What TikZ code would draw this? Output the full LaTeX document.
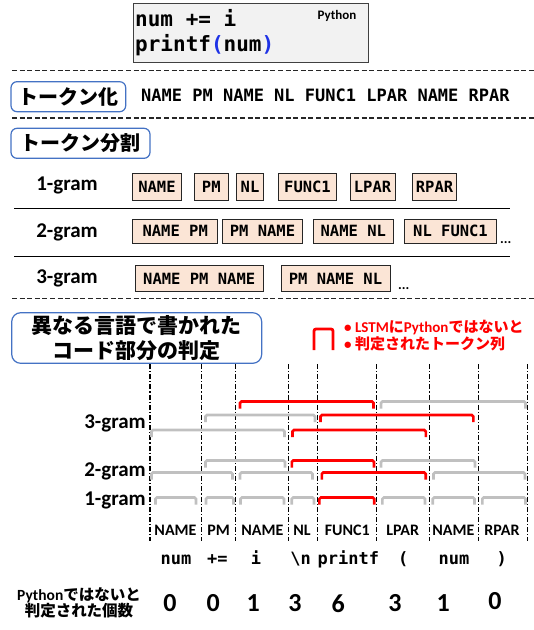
\documentclass[tikz,border=0pt]{standalone}
\usepackage{fontspec}
\setmainfont{Carlito}
\newfontfamily\cjk{Noto Sans CJK JP}
\newfontfamily\mono{DejaVu Sans Mono}[BoldFont={DejaVu Sans Mono Bold}]
\definecolor{peach}{HTML}{FBE5D6}
\definecolor{bracegray}{HTML}{C0C0C0}
\definecolor{boxblue}{HTML}{4472C4}
\definecolor{parblue}{RGB}{30,50,230}
\definecolor{codebg}{HTML}{F2F2F2}
\newcommand\brkt[4]{\draw[brk,#4] (#1,#3+7) -- (#1,#3) -- (#2,#3) -- (#2,#3+7);}
\begin{document}
\begin{tikzpicture}[x=1pt,y=-1pt,
  tok/.style={draw=black!85, fill=peach, line width=1pt, inner sep=0pt,
    font=\mono\bfseries\fontsize{15.5}{18}\selectfont},
  hdr/.style={draw=boxblue, line width=1.2pt, rounded corners=6pt, fill=white, inner sep=0pt,
    font=\cjk\bfseries\fontsize{20}{24}\selectfont},
  gramlbl/.style={font=\bfseries\fontsize{21}{24}\selectfont, inner sep=0pt},
  brk/.style={line width=2.6pt, rounded corners=1.5pt},
  vline/.style={line width=1.1pt, black, dash pattern=on 5pt off 2pt on 1.2pt off 2pt},
  hdash/.style={line width=1.3pt, black!85, dash pattern=on 5pt off 2.6pt},
  hsolid/.style={line width=1.8pt, black},
  tlbl/.style={font=\bfseries\fontsize{16}{18}\selectfont, inner sep=0pt},
  src/.style={font=\mono\bfseries\fontsize{17}{19}\selectfont, inner sep=0pt, anchor=base},
  num/.style={font=\bfseries\fontsize{26}{28}\selectfont, inner sep=0pt},
  dots/.style={font=\bfseries\fontsize{14}{16}\selectfont, inner sep=0pt, anchor=base west}]
\useasboundingbox (0,0) rectangle (534,630);

% code box
\node[draw=black!75, fill=codebg, line width=1pt, minimum width=235pt, minimum height=59.4pt, inner sep=0pt] (code) at (250.8,33) {};
\node[anchor=base west, inner sep=0pt, font=\mono\bfseries\fontsize{21}{23}\selectfont] (c1) at (135,26.5) {num += i};
\node[anchor=base west, inner sep=0pt, font=\mono\bfseries\fontsize{21}{23}\selectfont] (c2) at (135,51.5) {printf{\color{parblue}(}num{\color{parblue})}};
\node[anchor=base, inner sep=0pt, font=\bfseries\fontsize{13}{15}\selectfont] (py) at (337,19) {Python};

% dashed separators
\draw[hdash] (12,70.5) -- (534,70.5);
\draw[hdash] (12,118) -- (534,118);
\draw[hdash] (12,298.5) -- (534,298.5);

% tokenize
\node[hdr, minimum width=114.7pt, minimum height=30pt] (tk) at (68.35,96.7) {トークン化};
\node[anchor=base west, inner sep=0pt, font=\mono\bfseries\fontsize{17}{19}\selectfont] (tkline) at (141,101.5) {NAME PM NAME NL FUNC1 LPAR NAME RPAR};

% token split
\node[hdr, minimum width=139pt, minimum height=30pt] (sp) at (80.5,143.3) {トークン分割};

\node[gramlbl] (g1) at (67,185) {1-gram};
\node[gramlbl] (g2) at (67,232.5) {2-gram};
\node[gramlbl] (g3) at (67,278) {3-gram};

\draw[hsolid] (14,208.5) -- (510,208.5);
\draw[hsolid] (14,256.5) -- (510,256.5);

% 1-gram boxes
\node[tok, minimum width=49.4pt, minimum height=26.7pt] (u1) at (157,186.7) {NAME};
\node[tok, minimum width=34pt, minimum height=26.7pt] (u2) at (211.3,186.7) {PM};
\node[tok, minimum width=26.6pt, minimum height=26.7pt] (u3) at (250,186.7) {NL};
\node[tok, minimum width=58.4pt, minimum height=26.7pt] (u4) at (307.5,186.7) {FUNC1};
\node[tok, minimum width=45pt, minimum height=26.7pt] (u5) at (372.5,186.7) {LPAR};
\node[tok, minimum width=44.4pt, minimum height=26.7pt] (u6) at (434.5,186.7) {RPAR};
% 2-gram boxes
\node[tok, minimum width=85pt, minimum height=24pt] (b1) at (175.2,231.3) {NAME PM};
\node[tok, minimum width=80.4pt, minimum height=24pt] (b2) at (262.5,231.3) {PM NAME};
\node[tok, minimum width=80pt, minimum height=24pt] (b3) at (353.3,231.3) {NAME NL};
\node[tok, minimum width=92.4pt, minimum height=24pt] (b4) at (450.5,231.3) {NL FUNC1};
\node[dots] (d2) at (500,243) {...};
% 3-gram boxes
\node[tok, minimum width=128.3pt, minimum height=25.7pt] (t1) at (199.2,278.8) {NAME PM NAME};
\node[tok, minimum width=109pt, minimum height=25.7pt] (t2) at (335.5,278.8) {PM NAME NL};
\node[dots] (d3) at (398,289) {...};

% detection header
\node[hdr, rounded corners=9pt, minimum width=250pt, minimum height=50.6pt, align=center,
  font=\cjk\bfseries\fontsize{21}{25}\selectfont] (det) at (136.7,338) {異なる言語で書かれた\\コード部分の判定};

% legend
\draw[red, line width=2.8pt, rounded corners=2pt] (314,350) -- (314,329) -- (333,329) -- (333,350);
\node[anchor=north west, inner sep=0pt, align=left, text=red,
  font=\bfseries\fontsize{15}{17}\selectfont] (leg) at (344,320)
  {• LSTM{\cjk に}Python{\cjk ではないと}\\• {\cjk 判定されたトークン列}};

% vertical dash-dot lines
\foreach \xx in {150,201.7,235.7,288.5,317.5,376.7,429.3,478.3,527.5}
  \draw[vline] (\xx,364) -- (\xx,541);

% n-gram labels
\node[gramlbl, anchor=east] (l3) at (146,423) {3-gram};
\node[gramlbl, anchor=east] (l2) at (146,471.5) {2-gram};
\node[gramlbl, anchor=east] (l1) at (146,500) {1-gram};

% brackets row 1 (3-gram)
\brkt{240}{373.5}{401.5}{red}
\brkt{381}{525.5}{401.5}{bracegray}
\brkt{205.5}{315}{415}{bracegray}
\brkt{320.5}{473.3}{415}{red}
\brkt{151.5}{284.5}{430}{bracegray}
\brkt{292.5}{425.8}{430}{red}
% 2-gram
\brkt{205.5}{285}{460.5}{bracegray}
\brkt{291.8}{374}{460.5}{red}
\brkt{381}{475}{460.5}{bracegray}
\brkt{151.5}{232.5}{472.5}{bracegray}
\brkt{240}{312.5}{472.5}{bracegray}
\brkt{321.8}{425.7}{472.5}{red}
\brkt{433.5}{525}{472.5}{bracegray}
% 1-gram
\brkt{155.5}{196}{497.5}{bracegray}
\brkt{206}{233.5}{497.5}{bracegray}
\brkt{240.5}{284}{497.5}{bracegray}
\brkt{291.7}{314}{497.5}{bracegray}
\brkt{319.4}{374.2}{497.5}{red}
\brkt{382.4}{425}{497.5}{bracegray}
\brkt{432.7}{474.5}{497.5}{bracegray}
\brkt{482.3}{525.5}{497.5}{bracegray}

% token labels
\node[tlbl] (k1) at (175.5,530) {NAME};
\node[tlbl] (k2) at (218.5,530) {PM};
\node[tlbl] (k3) at (262.3,530) {NAME};
\node[tlbl] (k4) at (302,530) {NL};
\node[tlbl] (k5) at (347.3,530) {FUNC1};
\node[tlbl] (k6) at (402.7,530) {LPAR};
\node[tlbl] (k7) at (453.3,530) {NAME};
\node[tlbl] (k8) at (502,530) {RPAR};

% source
\node[src] (s1) at (176,564) {num};
\node[src] (s2) at (217.3,564) {+=};
\node[src] (s3) at (256,564) {i};
\node[src] (s4) at (300.7,564) {\textbackslash n};
\node[src] (s5) at (348.3,564) {printf};
\node[src] (s6) at (403.3,564) {(};
\node[src] (s7) at (454,564) {num};
\node[src] (s8) at (501.7,564) {)};

% counts
\node[align=center, inner sep=0pt, font=\bfseries\fontsize{15.5}{16.5}\selectfont] (cnt) at (79,603)
  {Python{\cjk ではないと}\\{\cjk 判定された個数}};
\node[num] (n1) at (170,603.3) {0};
\node[num] (n2) at (213.3,603.3) {0};
\node[num] (n3) at (253.3,603.3) {1};
\node[num] (n4) at (295,603.3) {3};
\node[num] (n5) at (338.3,603.3) {6};
\node[num] (n6) at (395,603.3) {3};
\node[num] (n7) at (443.3,603.3) {1};
\node[num] (n8) at (495,601) {0};
\end{tikzpicture}
\end{document}
